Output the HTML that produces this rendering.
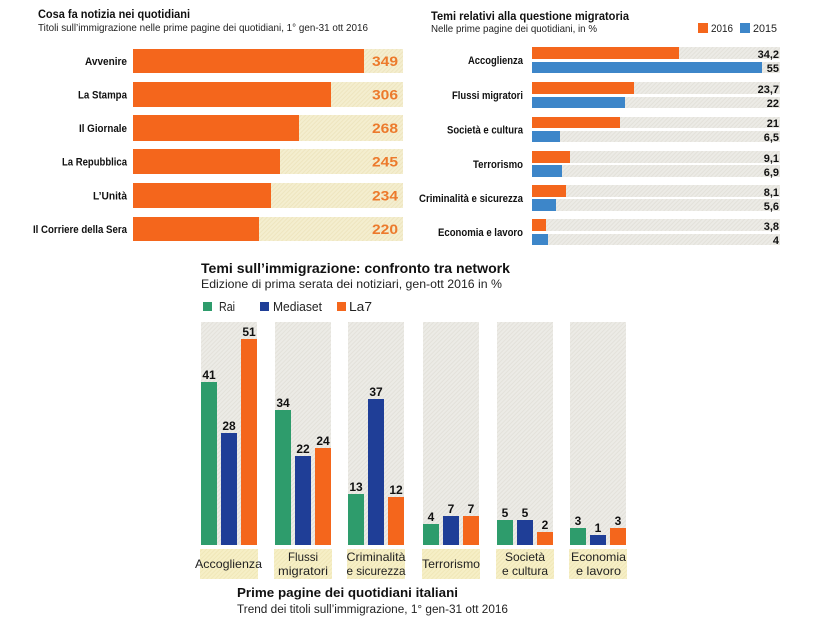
<!DOCTYPE html>
<html><head><meta charset="utf-8"><style>
html,body{margin:0;padding:0;background:#fff;}
svg{display:block;font-family:"Liberation Sans",sans-serif;}
</style></head><body>
<svg width="819" height="625" viewBox="0 0 819 625" xmlns="http://www.w3.org/2000/svg">
<defs>
<pattern id="pb" width="3" height="3" patternUnits="userSpaceOnUse" patternTransform="rotate(45)">
<rect width="3" height="3" fill="#f4eecf"/><rect width="1" height="3" fill="#eee5bf"/></pattern>
<pattern id="pg" width="3" height="3" patternUnits="userSpaceOnUse" patternTransform="rotate(45)">
<rect width="3" height="3" fill="#ecebe6"/><rect width="1" height="3" fill="#e3e1da"/></pattern>
<pattern id="py" width="3" height="3" patternUnits="userSpaceOnUse" patternTransform="rotate(45)">
<rect width="3" height="3" fill="#f6efc6"/><rect width="1" height="3" fill="#f0e7b8"/></pattern>
</defs>

<!-- LEFT TOP CHART -->
<text x="38" y="18" font-size="12" font-weight="bold" fill="#111" textLength="152" lengthAdjust="spacingAndGlyphs">Cosa fa notizia nei quotidiani</text>
<text x="38" y="31" font-size="10.5" fill="#222" textLength="330" lengthAdjust="spacingAndGlyphs">Titoli sull’immigrazione nelle prime pagine dei quotidiani, 1° gen-31 ott 2016</text>
<g>
<rect x="133" y="49" width="270" height="24" fill="url(#pb)"/>
<rect x="133" y="82" width="270" height="25" fill="url(#pb)"/>
<rect x="133" y="115" width="270" height="26" fill="url(#pb)"/>
<rect x="133" y="149" width="270" height="25" fill="url(#pb)"/>
<rect x="133" y="183" width="270" height="25" fill="url(#pb)"/>
<rect x="133" y="217" width="270" height="24" fill="url(#pb)"/>
<rect x="133" y="49" width="231" height="24" fill="#f4661c"/>
<rect x="133" y="82" width="198" height="25" fill="#f4661c"/>
<rect x="133" y="115" width="166" height="26" fill="#f4661c"/>
<rect x="133" y="149" width="147" height="25" fill="#f4661c"/>
<rect x="133" y="183" width="138" height="25" fill="#f4661c"/>
<rect x="133" y="217" width="126" height="24" fill="#f4661c"/>
</g>
<g font-size="11" font-weight="bold" fill="#111" text-anchor="end">
<text x="127" y="65" textLength="42" lengthAdjust="spacingAndGlyphs">Avvenire</text>
<text x="127" y="98.5" textLength="49" lengthAdjust="spacingAndGlyphs">La Stampa</text>
<text x="127" y="132" textLength="48" lengthAdjust="spacingAndGlyphs">Il Giornale</text>
<text x="127" y="165.5" textLength="65" lengthAdjust="spacingAndGlyphs">La Repubblica</text>
<text x="127" y="199.5" textLength="34" lengthAdjust="spacingAndGlyphs">L’Unità</text>
<text x="127" y="233" textLength="94" lengthAdjust="spacingAndGlyphs">Il Corriere della Sera</text>
</g>
<g font-size="14" font-weight="bold" fill="#ec7a2c">
<text x="372" y="66" textLength="26" lengthAdjust="spacingAndGlyphs">349</text>
<text x="372" y="99.5" textLength="26" lengthAdjust="spacingAndGlyphs">306</text>
<text x="372" y="133" textLength="26" lengthAdjust="spacingAndGlyphs">268</text>
<text x="372" y="166.5" textLength="26" lengthAdjust="spacingAndGlyphs">245</text>
<text x="372" y="200.5" textLength="26" lengthAdjust="spacingAndGlyphs">234</text>
<text x="372" y="234" textLength="26" lengthAdjust="spacingAndGlyphs">220</text>
</g>

<!-- RIGHT TOP CHART -->
<text x="431" y="20" font-size="12" font-weight="bold" fill="#111" textLength="198" lengthAdjust="spacingAndGlyphs">Temi relativi alla questione migratoria</text>
<text x="431" y="32" font-size="10.5" fill="#222" textLength="166" lengthAdjust="spacingAndGlyphs">Nelle prime pagine dei quotidiani, in %</text>
<rect x="698" y="23" width="10" height="10" fill="#f4661c"/>
<text x="711" y="32" font-size="11" fill="#222" textLength="22" lengthAdjust="spacingAndGlyphs">2016</text>
<rect x="740" y="23" width="10" height="10" fill="#3d86c9"/>
<text x="753" y="32" font-size="11" fill="#222" textLength="24" lengthAdjust="spacingAndGlyphs">2015</text>
<g>
<rect x="532" y="47" width="248" height="12" fill="url(#pg)"/>
<rect x="532" y="62" width="248" height="11" fill="url(#pg)"/>
<rect x="532" y="82" width="248" height="12" fill="url(#pg)"/>
<rect x="532" y="97" width="248" height="11" fill="url(#pg)"/>
<rect x="532" y="117" width="248" height="11" fill="url(#pg)"/>
<rect x="532" y="131" width="248" height="11" fill="url(#pg)"/>
<rect x="532" y="151" width="248" height="12" fill="url(#pg)"/>
<rect x="532" y="165" width="248" height="12" fill="url(#pg)"/>
<rect x="532" y="185" width="248" height="12" fill="url(#pg)"/>
<rect x="532" y="199" width="248" height="12" fill="url(#pg)"/>
<rect x="532" y="219" width="248" height="12" fill="url(#pg)"/>
<rect x="532" y="234" width="248" height="11" fill="url(#pg)"/>

<rect x="532" y="47" width="147" height="12" fill="#f4661c"/>
<rect x="532" y="62" width="230" height="11" fill="#3d86c9"/>
<rect x="532" y="82" width="102" height="12" fill="#f4661c"/>
<rect x="532" y="97" width="93" height="11" fill="#3d86c9"/>
<rect x="532" y="117" width="88" height="11" fill="#f4661c"/>
<rect x="532" y="131" width="28" height="11" fill="#3d86c9"/>
<rect x="532" y="151" width="38" height="12" fill="#f4661c"/>
<rect x="532" y="165" width="30" height="12" fill="#3d86c9"/>
<rect x="532" y="185" width="34" height="12" fill="#f4661c"/>
<rect x="532" y="199" width="24" height="12" fill="#3d86c9"/>
<rect x="532" y="219" width="14" height="12" fill="#f4661c"/>
<rect x="532" y="234" width="16" height="11" fill="#3d86c9"/>
</g>
<g font-size="11" font-weight="bold" fill="#111" text-anchor="end">
<text x="523" y="64" textLength="55" lengthAdjust="spacingAndGlyphs">Accoglienza</text>
<text x="523" y="99" textLength="71" lengthAdjust="spacingAndGlyphs">Flussi migratori</text>
<text x="523" y="133.5" textLength="76" lengthAdjust="spacingAndGlyphs">Società e cultura</text>
<text x="523" y="168" textLength="50" lengthAdjust="spacingAndGlyphs">Terrorismo</text>
<text x="523" y="202" textLength="104" lengthAdjust="spacingAndGlyphs">Criminalità e sicurezza</text>
<text x="523" y="236" textLength="85" lengthAdjust="spacingAndGlyphs">Economia e lavoro</text>
</g>
<g font-size="11" font-weight="bold" fill="#111" text-anchor="end">
<text x="779" y="58">34,2</text>
<text x="779" y="72">55</text>
<text x="779" y="93">23,7</text>
<text x="779" y="107">22</text>
<text x="779" y="127">21</text>
<text x="779" y="141">6,5</text>
<text x="779" y="162">9,1</text>
<text x="779" y="176">6,9</text>
<text x="779" y="196">8,1</text>
<text x="779" y="210">5,6</text>
<text x="779" y="230">3,8</text>
<text x="779" y="244">4</text>
</g>

<!-- BOTTOM CHART -->
<text x="201" y="273" font-size="14" font-weight="bold" fill="#111" textLength="309" lengthAdjust="spacingAndGlyphs">Temi sull’immigrazione: confronto tra network</text>
<text x="201" y="288" font-size="12" fill="#222" textLength="301" lengthAdjust="spacingAndGlyphs">Edizione di prima serata dei notiziari, gen-ott 2016 in %</text>
<rect x="203" y="302" width="9" height="9" fill="#2e9c6c"/>
<text x="219" y="311" font-size="13" fill="#222" textLength="16" lengthAdjust="spacingAndGlyphs">Rai</text>
<rect x="260" y="302" width="9" height="9" fill="#1f3e97"/>
<text x="273" y="311" font-size="13" fill="#222" textLength="49" lengthAdjust="spacingAndGlyphs">Mediaset</text>
<rect x="337" y="302" width="9" height="9" fill="#f4661c"/>
<text x="349" y="311" font-size="13" fill="#222" textLength="23" lengthAdjust="spacingAndGlyphs">La7</text>

<g>
<rect x="201" y="322" width="56" height="223" fill="url(#pg)"/>
<rect x="275" y="322" width="56" height="223" fill="url(#pg)"/>
<rect x="348" y="322" width="56" height="223" fill="url(#pg)"/>
<rect x="423" y="322" width="56" height="223" fill="url(#pg)"/>
<rect x="497" y="322" width="56" height="223" fill="url(#pg)"/>
<rect x="570" y="322" width="56" height="223" fill="url(#pg)"/>

<rect x="200" y="549" width="58" height="30" fill="url(#py)"/>
<rect x="274" y="549" width="58" height="30" fill="url(#py)"/>
<rect x="347" y="549" width="58" height="30" fill="url(#py)"/>
<rect x="422" y="549" width="58" height="30" fill="url(#py)"/>
<rect x="496" y="549" width="58" height="30" fill="url(#py)"/>
<rect x="569" y="549" width="58" height="30" fill="url(#py)"/>
</g>
<g>
<rect x="201" y="382" width="16" height="163" fill="#2e9c6c"/>
<rect x="221" y="433" width="16" height="112" fill="#1f3e97"/>
<rect x="241" y="339" width="16" height="206" fill="#f4661c"/>
<rect x="275" y="410" width="16" height="135" fill="#2e9c6c"/>
<rect x="295" y="456" width="16" height="89" fill="#1f3e97"/>
<rect x="315" y="448" width="16" height="97" fill="#f4661c"/>
<rect x="348" y="494" width="16" height="51" fill="#2e9c6c"/>
<rect x="368" y="399" width="16" height="146" fill="#1f3e97"/>
<rect x="388" y="497" width="16" height="48" fill="#f4661c"/>
<rect x="423" y="524" width="16" height="21" fill="#2e9c6c"/>
<rect x="443" y="516" width="16" height="29" fill="#1f3e97"/>
<rect x="463" y="516" width="16" height="29" fill="#f4661c"/>
<rect x="497" y="520" width="16" height="25" fill="#2e9c6c"/>
<rect x="517" y="520" width="16" height="25" fill="#1f3e97"/>
<rect x="537" y="532" width="16" height="13" fill="#f4661c"/>
<rect x="570" y="528" width="16" height="17" fill="#2e9c6c"/>
<rect x="590" y="535" width="16" height="10" fill="#1f3e97"/>
<rect x="610" y="528" width="16" height="17" fill="#f4661c"/>
</g>
<g font-size="12" font-weight="bold" fill="#111" text-anchor="middle">
<text x="209" y="379">41</text>
<text x="229" y="430">28</text>
<text x="249" y="336">51</text>
<text x="283" y="407">34</text>
<text x="303" y="453">22</text>
<text x="323" y="445">24</text>
<text x="356" y="491">13</text>
<text x="376" y="396">37</text>
<text x="396" y="494">12</text>
<text x="431" y="521">4</text>
<text x="451" y="513">7</text>
<text x="471" y="513">7</text>
<text x="505" y="517">5</text>
<text x="525" y="517">5</text>
<text x="545" y="529">2</text>
<text x="578" y="525">3</text>
<text x="598" y="532">1</text>
<text x="618" y="525">3</text>
</g>
<g font-size="12" fill="#222" text-anchor="middle">
<text x="228.5" y="568" textLength="67" lengthAdjust="spacingAndGlyphs">Accoglienza</text>
<text x="303" y="561" textLength="30" lengthAdjust="spacingAndGlyphs">Flussi</text>
<text x="303" y="575" textLength="50" lengthAdjust="spacingAndGlyphs">migratori</text>
<text x="376" y="561" textLength="59" lengthAdjust="spacingAndGlyphs">Criminalità</text>
<text x="376" y="575" textLength="59" lengthAdjust="spacingAndGlyphs">e sicurezza</text>
<text x="451" y="568" textLength="58" lengthAdjust="spacingAndGlyphs">Terrorismo</text>
<text x="525" y="561" textLength="40" lengthAdjust="spacingAndGlyphs">Società</text>
<text x="525" y="575" textLength="46" lengthAdjust="spacingAndGlyphs">e cultura</text>
<text x="598.5" y="561" textLength="55" lengthAdjust="spacingAndGlyphs">Economia</text>
<text x="598.5" y="575" textLength="45" lengthAdjust="spacingAndGlyphs">e lavoro</text>
</g>
<text x="237" y="597" font-size="13" font-weight="bold" fill="#111" textLength="221" lengthAdjust="spacingAndGlyphs">Prime pagine dei quotidiani italiani</text>
<text x="237" y="613" font-size="11.5" fill="#222" textLength="271" lengthAdjust="spacingAndGlyphs">Trend dei titoli sull’immigrazione, 1° gen-31 ott 2016</text>
</svg>
</body></html>
